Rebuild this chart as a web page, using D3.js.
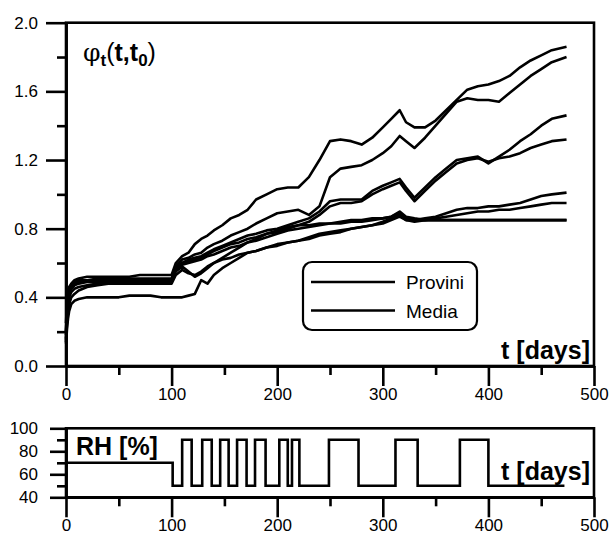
<!DOCTYPE html>
<html><head><meta charset="utf-8">
<script src="https://cdn.jsdelivr.net/npm/d3@7"></script>
<style>body{margin:0;background:#fff}svg{display:block}text{font-family:"Liberation Sans",Arial,sans-serif;fill:#000}</style>
</head><body>
<script>
// ---- data ----
const times = [0,1,2,3,5,8,12,20,30,40,50,60,70,80,90,100,104,110,116,122,128,134,140,148,156,164,172,180,190,200,210,220,230,240,250,260,270,280,290,300,308,316,322,330,340,350,360,370,380,390,400,410,420,430,440,450,460,474];
const provino1 = [0.25,0.38,0.44,0.46,0.48,0.50,0.51,0.52,0.52,0.52,0.52,0.52,0.53,0.53,0.53,0.53,0.60,0.64,0.66,0.71,0.74,0.76,0.79,0.82,0.86,0.88,0.91,0.97,1.00,1.03,1.04,1.04,1.10,1.20,1.31,1.32,1.31,1.29,1.33,1.39,1.44,1.49,1.42,1.39,1.39,1.43,1.49,1.55,1.61,1.63,1.64,1.66,1.69,1.74,1.78,1.81,1.84,1.86];
const provino2 = [0.20,0.35,0.42,0.45,0.47,0.49,0.50,0.50,0.51,0.51,0.51,0.51,0.51,0.51,0.51,0.51,0.58,0.62,0.63,0.65,0.66,0.69,0.71,0.73,0.76,0.78,0.80,0.83,0.86,0.89,0.90,0.91,0.88,0.93,1.10,1.15,1.16,1.17,1.20,1.24,1.28,1.34,1.31,1.27,1.33,1.40,1.47,1.54,1.56,1.55,1.55,1.54,1.59,1.64,1.69,1.73,1.77,1.80];
const provino3 = [0.18,0.33,0.42,0.45,0.47,0.48,0.49,0.50,0.50,0.50,0.50,0.50,0.50,0.50,0.50,0.50,0.57,0.60,0.62,0.63,0.64,0.66,0.68,0.70,0.72,0.74,0.76,0.77,0.79,0.80,0.82,0.84,0.86,0.90,0.96,0.97,0.97,0.97,1.02,1.05,1.07,1.09,1.04,0.98,1.04,1.10,1.15,1.20,1.21,1.22,1.18,1.22,1.26,1.31,1.35,1.40,1.44,1.46];
const media    = [0.20,0.34,0.41,0.44,0.46,0.48,0.49,0.495,0.50,0.50,0.50,0.50,0.50,0.50,0.50,0.50,0.56,0.60,0.61,0.62,0.63,0.65,0.67,0.69,0.71,0.72,0.74,0.75,0.77,0.78,0.80,0.82,0.84,0.88,0.93,0.95,0.95,0.96,1.00,1.03,1.05,1.07,1.02,0.96,1.02,1.08,1.13,1.18,1.20,1.21,1.19,1.21,1.22,1.24,1.27,1.29,1.31,1.32];
const provino4 = [0.15,0.30,0.38,0.42,0.45,0.47,0.48,0.49,0.49,0.49,0.49,0.49,0.49,0.49,0.49,0.49,0.56,0.59,0.60,0.61,0.62,0.64,0.65,0.67,0.69,0.70,0.72,0.73,0.75,0.77,0.79,0.80,0.81,0.82,0.83,0.83,0.84,0.84,0.85,0.86,0.87,0.89,0.86,0.85,0.86,0.87,0.89,0.91,0.92,0.92,0.93,0.93,0.94,0.95,0.97,0.99,1.00,1.01];
const provino5 = [0.14,0.25,0.32,0.36,0.40,0.42,0.44,0.46,0.47,0.48,0.48,0.48,0.48,0.48,0.48,0.48,0.53,0.56,0.54,0.53,0.55,0.58,0.60,0.62,0.63,0.65,0.66,0.67,0.69,0.70,0.72,0.73,0.74,0.76,0.77,0.78,0.80,0.81,0.82,0.83,0.85,0.87,0.85,0.84,0.85,0.86,0.87,0.88,0.89,0.90,0.90,0.91,0.91,0.92,0.93,0.94,0.95,0.95];
const provino6 = [0.13,0.22,0.28,0.32,0.36,0.38,0.39,0.40,0.40,0.40,0.40,0.41,0.41,0.41,0.40,0.40,0.40,0.40,0.41,0.42,0.50,0.48,0.53,0.57,0.60,0.63,0.66,0.67,0.69,0.71,0.72,0.73,0.75,0.77,0.78,0.79,0.80,0.81,0.82,0.84,0.86,0.88,0.85,0.85,0.85,0.85,0.85,0.85,0.85,0.85,0.85,0.85,0.85,0.85,0.85,0.85,0.85,0.85];
const provino7 = [0.16,0.28,0.36,0.40,0.43,0.45,0.46,0.47,0.48,0.49,0.49,0.49,0.49,0.49,0.49,0.49,0.55,0.58,0.55,0.52,0.54,0.57,0.60,0.63,0.66,0.69,0.72,0.74,0.77,0.79,0.81,0.82,0.82,0.83,0.83,0.84,0.85,0.85,0.86,0.86,0.87,0.90,0.87,0.86,0.85,0.85,0.85,0.85,0.85,0.85,0.85,0.85,0.85,0.85,0.85,0.85,0.85,0.85];
const seriesNames = ["provino1","provino2","provino3","media","provino4","provino5","provino6","provino7"];
const seriesValues = [provino1,provino2,provino3,media,provino4,provino5,provino6,provino7];

const rhTimes  = [0,101,110,119,129,138,146,154,162,171,179,189,202,210,214,221,249,277,312,333,373,400,472];
const rhValues = [70,50,90,50,90,50,90,50,90,50,90,50,90,50,90,50,90,50,90,50,90,50,50];

const xTicks = [0,100,200,300,400,500];
const xMinor = [50,150,250,350,450];
const phiTicks = [0.0,0.4,0.8,1.2,1.6,2.0];
const phiMinor = [0.2,0.6,1.0,1.4,1.8];
const rhTicks = [40,60,80,100];
const rhMinor = [50,70,90];
const legendLabels = ["Provini","Media"];

// ---- drawing ----
const W = 611, H = 542;
const svg = d3.select("body").append("svg").attr("width",W).attr("height",H);

const x = d3.scaleLinear().domain([0,500]).range([66,594]);
const y = d3.scaleLinear().domain([0,2]).range([366,22.7]);
const y2 = d3.scaleLinear().domain([40,100]).range([497.3,428.3]);

const AX = 2.6;

function frame(top, bottom){
  svg.append("rect").attr("x",x(0)).attr("y",top).attr("width",x(500)-x(0)).attr("height",bottom-top)
    .attr("fill","none").attr("stroke","#000").attr("stroke-width",AX);
}

// top panel lines
const line = d3.line().x((d,i)=>x(times[i])).y(d=>y(d)).curve(d3.curveLinear);
const gLines = svg.append("g");
seriesValues.forEach((vals,k)=>{
  gLines.append("path").datum(vals).attr("d",line)
    .attr("fill","none").attr("stroke","#000").attr("stroke-width",2.6).attr("stroke-linejoin","round")
    .attr("class",seriesNames[k]);
});

// axes top
frame(y(2), y(0));
const fs = 17;
const gx = svg.append("g").attr("transform",`translate(0,${y(0)})`)
  .call(d3.axisBottom(x).tickValues(xTicks).tickSize(20).tickSizeOuter(0).tickFormat(d3.format("d")));
const gxm = svg.append("g").attr("transform",`translate(0,${y(0)})`)
  .call(d3.axisBottom(x).tickValues(xMinor).tickSize(9).tickSizeOuter(0).tickFormat(""));
const gy = svg.append("g").attr("transform",`translate(${x(0)},0)`)
  .call(d3.axisLeft(y).tickValues(phiTicks).tickSize(20).tickSizeOuter(0).tickFormat(d3.format(".1f")));
const gym = svg.append("g").attr("transform",`translate(${x(0)},0)`)
  .call(d3.axisLeft(y).tickValues(phiMinor).tickSize(9).tickSizeOuter(0).tickFormat(""));

// bottom panel
const rhLine = d3.line().x((d,i)=>x(rhTimes[i])).y(d=>y2(d)).curve(d3.curveStepAfter);
svg.append("path").datum(rhValues).attr("d",rhLine).attr("fill","none").attr("stroke","#000").attr("stroke-width",2.6);
frame(y2(100), y2(40));
const bx = svg.append("g").attr("transform",`translate(0,${y2(40)})`)
  .call(d3.axisBottom(x).tickValues(xTicks).tickSize(20).tickSizeOuter(0).tickFormat(d3.format("d")));
const bxm = svg.append("g").attr("transform",`translate(0,${y2(40)})`)
  .call(d3.axisBottom(x).tickValues(xMinor).tickSize(9).tickSizeOuter(0).tickFormat(""));
const by = svg.append("g").attr("transform",`translate(${x(0)},0)`)
  .call(d3.axisLeft(y2).tickValues(rhTicks).tickSize(16).tickSizeOuter(0).tickFormat(d3.format("d")));
const bym = svg.append("g").attr("transform",`translate(${x(0)},0)`)
  .call(d3.axisLeft(y2).tickValues(rhMinor).tickSize(9).tickSizeOuter(0).tickFormat(""));

[gx,gxm,gy,gym,bx,bxm,by,bym].forEach(g=>{
  g.select(".domain").attr("stroke-width",AX);
  g.selectAll(".tick line").attr("stroke-width",AX);
  g.selectAll(".tick text").attr("font-size",fs).attr("fill","#000");
});
gx.selectAll(".tick text").attr("dy","0.45em").attr("y",26);
bx.selectAll(".tick text").attr("dy","0.45em").attr("y",26);
gy.selectAll(".tick text").attr("x",-28);
by.selectAll(".tick text").attr("x",-28);

// labels
svg.append("text").attr("x",590).attr("y",359).attr("text-anchor","end")
  .attr("font-size",25).attr("font-weight","bold").text("t [days]");
svg.append("text").attr("x",590).attr("y",480).attr("text-anchor","end")
  .attr("font-size",25).attr("font-weight","bold").text("t [days]");
svg.append("text").attr("x",76).attr("y",455)
  .attr("font-size",25).attr("font-weight","bold").text("RH [%]");

const phi = svg.append("text").attr("x",83).attr("y",61).attr("font-size",25);
phi.append("tspan").style("font-family","'DejaVu Serif', serif").text("φ");
phi.append("tspan").attr("font-weight","bold").attr("font-size",17).attr("dy",5).text("t");
phi.append("tspan").attr("dy",-5).text("(");
phi.append("tspan").attr("font-weight","bold").text("t,t");
phi.append("tspan").attr("font-weight","bold").attr("font-size",17).attr("dy",5).text("0");
phi.append("tspan").attr("dy",-5).text(")");

// legend
const lg = svg.append("g");
lg.append("rect").attr("x",303).attr("y",262).attr("width",174).attr("height",68).attr("rx",9)
  .attr("fill","#fff").attr("stroke","#000").attr("stroke-width",2.2);
legendLabels.forEach((lab,i)=>{
  const yy = 282 + i*28.5;
  lg.append("line").attr("x1",311).attr("x2",395).attr("y1",yy).attr("y2",yy).attr("stroke","#000").attr("stroke-width",2.4);
  lg.append("text").attr("x",406).attr("y",yy+7).attr("font-size",19).text(lab);
});
</script>
</body></html>
